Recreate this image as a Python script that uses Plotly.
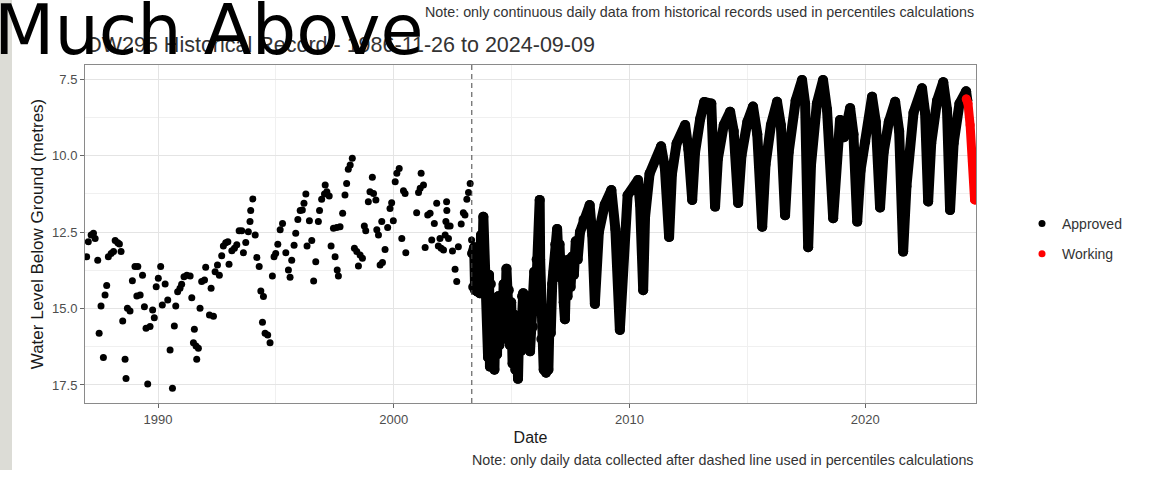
import plotly.graph_objects as go

# ---------------- data (decimal years, metres below ground) ----------------
hist_year = [1986.97,1987.04,1987.16,1987.26,1987.33,1987.44,1987.50,1987.58,1987.68,1987.75,
             1987.82,1987.89,1988.01,1988.11,1988.18,1988.29,1988.36,1988.43,1988.50,1988.60,
             1988.64,1988.70,1988.81,1988.91,1989.02,1989.14,1989.10,1989.24,1989.34,1989.42,
             1989.49,1989.66,1989.56,1989.77,1989.84,1989.92,1990.01,1990.11,1990.18,1990.30,
             1990.41,1990.51,1990.61,1990.69,1990.75,1990.83,1990.93,1991.00,1991.10,1991.22,
             1991.36,1991.43,1991.54,1991.50,1991.61,1991.71,1991.64,1991.78,1991.85,1991.97,
             1992.02,1992.18,1992.35,1992.25,1992.42,1992.52,1992.60,1992.70,1992.77,1992.87,
             1992.96,1993.01,1993.13,1993.24,1993.34,1993.44,1993.55,1993.62,1993.72,1993.83,
             1993.90,1993.93,1994.02,1994.12,1994.19,1994.29,1994.36,1994.47,1994.43,1994.54,
             1994.65,1994.75,1994.85,1994.92,1994.99,1995.08,1995.18,1995.28,
             1995.42,1995.53,1995.60,1995.67,1995.77,1995.84,1995.93,1996.03,1996.12,1996.19,
             1996.27,1996.32,1996.42,1996.52,1996.60,1996.69,1996.80,1996.85,1996.94,1997.06,
             1997.16,1997.26,1997.09,1997.34,1997.44,1997.58,1997.72,1997.51,1997.60,1997.65,
             1997.83,1997.93,1998.00,1998.07,1998.15,1998.24,1998.33,1998.43,1998.57,1998.67,
             1998.50,1998.75,1998.81,1998.92,1998.99,1999.14,1999.24,1999.09,1999.28,1999.35,
             1999.42,1999.52,1999.49,1999.63,1999.74,1999.84,1999.91,1999.98,2000.06,2000.13,
             2000.23,2000.34,2000.41,2000.48,2000.51,2000.97,2001.05,2001.12,2001.16,2001.26,
             2001.33,2001.44,2001.54,2001.61,2001.72,2001.82,2001.89,2002.01,2002.11,2001.96,
             2002.18,2002.32,2002.21,2002.29,2002.39,2002.25,2002.24,2002.49,2002.60,2002.67,
             2002.74,2002.86,2002.95,2003.02,2003.10,2003.17,2003.24,2003.30]
hist_level = [13.31,12.82,12.60,12.54,12.71,13.42,15.81,14.92,16.60,14.56,
              14.25,13.31,13.20,13.14,12.78,12.85,12.89,13.14,15.41,16.66,
              17.29,14.99,15.08,14.09,13.63,13.63,14.59,14.56,13.91,14.94,
              15.65,15.59,17.47,15.05,15.30,14.29,14.01,13.63,14.89,14.20,
              14.72,16.36,17.61,15.57,14.92,14.45,14.34,14.21,13.96,13.91,
              13.94,14.65,15.68,16.12,16.23,16.30,16.66,14.99,14.12,14.07,
              13.65,15.21,15.25,14.34,13.80,13.58,13.91,13.28,12.96,12.85,
              12.82,13.55,13.11,13.03,12.92,12.46,12.46,13.18,12.84,12.49,
              12.16,11.80,11.42,12.60,13.33,13.63,14.43,14.61,15.45,15.81,
              15.87,16.12,13.94,13.31,13.20,12.90,12.43,12.22,
              13.18,13.74,13.98,13.42,12.93,12.54,12.09,11.80,11.78,11.56,
              11.26,12.96,12.13,12.78,14.10,13.47,12.16,11.80,11.43,11.26,
              11.18,11.32,10.96,12.96,12.38,12.35,12.33,13.31,13.74,13.94,
              11.89,11.29,10.91,10.45,10.31,10.09,13.03,13.14,13.25,13.36,
              13.61,12.30,12.46,11.51,11.18,11.24,11.45,10.71,12.43,12.60,
              13.58,13.50,12.16,13.07,12.35,11.73,11.54,12.13,10.86,10.58,
              10.42,12.71,11.15,11.24,13.18,11.87,11.21,11.07,10.58,10.96,
              13.01,11.94,11.89,12.76,12.22,11.56,12.96,13.03,13.09,12.71,
              12.60,12.71,12.16,12.30,12.30,11.80,11.51,13.12,13.72,14.12,
              12.98,12.24,11.87,11.94,11.43,11.21,10.91,12.76]

daily_year = [2003.33,2003.37,2003.41,2003.45,2003.50,2003.55,2003.60,2003.65,2003.70,2003.75,
              2003.80,2003.85,2003.90,2003.95,2004.00,2004.04,2004.08,2004.12,2004.17,2004.22,
              2004.27,2004.32,2004.38,2004.43,2004.48,2004.54,2004.60,2004.66,2004.72,2004.78,
              2004.83,2004.88,2004.93,2004.98,2005.04,2005.10,2005.16,2005.22,2005.27,2005.32,
              2005.38,2005.44,2005.49,2005.54,2005.60,2005.66,2005.72,2005.78,2005.84,2005.90,
              2005.96,2006.02,2006.06,2006.12,2006.17,2006.19,2006.21,2006.26,2006.31,2006.36,
              2006.41,2006.46,2006.51,2006.56,2006.61,2006.66,2006.72,2006.78,2006.85,2006.93,
              2006.98,2007.03,2007.09,2007.15,2007.21,2007.26,2007.31,2007.37,2007.43,2007.50,
              2007.57,2007.64,2007.72,2007.80,2007.90,2008.05,
              2008.31,2008.42,2008.53,2008.70,2008.95,2009.23,2009.40,2009.59,2009.75,2009.92,
              2010.36,2010.45,2010.58,2010.66,2010.85,2011.34,2011.50,2011.68,2011.80,2012.00,
              2012.36,2012.50,2012.66,2012.78,2013.00,2013.17,2013.47,2013.63,2013.75,2014.00,
              2014.27,2014.42,2014.61,2014.75,2015.00,2015.24,2015.42,2015.63,2015.77,2016.00,
              2016.26,2016.42,2016.60,2016.75,2017.05,2017.32,2017.45,2017.58,2017.70,2017.95,
              2018.21,2018.38,2018.64,2018.78,2018.93,2019.10,2019.36,2019.50,2019.66,2019.80,
              2020.00,2020.12,2020.29,2020.45,2020.63,2020.78,2021.00,2021.27,2021.44,2021.61,
              2021.75,2022.05,2022.41,2022.54,2022.67,2022.80,2023.05,2023.31,2023.47,2023.60,
              2023.75,2024.00,2024.28,2024.33]
daily_level = [13.2,14.3,13.0,14.4,13.1,14.45,13.3,14.5,12.6,14.0,
               12.0,13.8,14.5,14.0,16.6,13.9,16.9,14.2,16.4,14.8,
               17.0,14.7,16.5,14.6,16.2,14.9,16.0,14.2,15.6,13.7,
               15.4,14.4,16.2,14.8,16.8,15.2,17.0,15.6,17.3,15.5,
               16.4,14.6,14.5,16.2,14.7,16.3,14.6,16.4,14.8,15.6,
               13.8,14.8,13.4,14.2,13.2,11.45,13.4,16.0,15.4,17.0,
               15.6,17.1,15.5,17.0,15.2,15.8,14.2,13.8,12.9,12.4,
               13.2,12.9,14.0,13.4,14.8,15.35,14.0,14.6,13.4,14.3,
               13.3,13.9,12.8,13.4,12.5,12.1,
               11.62,12.6,14.85,12.5,11.6,11.13,12.4,15.7,12.6,11.3,
               10.8,11.6,14.4,12.0,10.6,9.7,10.4,12.66,10.6,9.6,
               9.0,9.8,11.45,9.9,8.8,8.25,8.3,11.67,10.1,9.0,
               8.57,9.2,11.55,10.0,8.9,8.4,9.3,12.33,10.3,9.0,
               8.24,9.0,11.95,9.9,8.2,7.53,8.3,13.0,10.3,8.3,
               7.53,8.5,12.05,9.8,8.84,9.4,8.45,9.3,12.16,10.5,
               9.55,9.0,8.08,8.9,11.7,9.9,8.9,8.24,9.2,13.14,
               11.0,8.6,7.8,8.6,11.5,9.6,8.2,7.6,8.5,11.78,
               9.6,8.3,7.9,8.2]

work_year = [2024.29,2024.36,2024.45,2024.55,2024.64]
work_level = [8.15,8.3,9.0,10.2,11.45]

x_ticks = [1990, 2000, 2010, 2020]
y_ticks = [7.5, 10.0, 12.5, 15.0, 17.5]
dashed_year = 2003.31

title_text = "OW295 Historical Record - 1986-11-26 to 2024-09-09"
overlay_text = "Much Above"
note_top = "Note: only continuous daily data from historical records used in percentiles calculations"
note_bottom = "Note: only daily data collected after dashed line used in percentiles calculations"

# ---------------- figure ----------------
W, H = 1168, 477
L, R, T, B = 85, 192, 65, 74
pw, ph = W - L - R, H - T - B

def px_x(px):
    return (px - L) / pw

def px_y(py):
    return (H - B - py) / ph

FONT = "Liberation Sans, Arial, sans-serif"

fig = go.Figure()
fig.add_trace(go.Scatter(x=daily_year, y=daily_level, mode="lines+markers",
                         line=dict(color="#000000", width=10),
                         marker=dict(color="#000000", size=10),
                         legendgroup="a", showlegend=False, hoverinfo="skip"))
fig.add_trace(go.Scatter(x=hist_year, y=hist_level, mode="markers", name="Approved",
                         marker=dict(color="#000000", size=7),
                         legendgroup="a"))
fig.add_trace(go.Scatter(x=work_year, y=work_level, mode="lines+markers",
                         line=dict(color="#ff0000", width=9),
                         marker=dict(color="#ff0000", size=9),
                         legendgroup="w", showlegend=False, hoverinfo="skip"))
fig.add_trace(go.Scatter(x=work_year, y=work_level, mode="markers", name="Working",
                         marker=dict(color="#ff0000", size=7),
                         legendgroup="w"))

axis_common = dict(showline=True, mirror=True, linecolor="#8a8a8a", linewidth=1,
                   ticks="outside", ticklen=4, tickcolor="#666666", tickwidth=1,
                   showgrid=True, gridcolor="#e4e4e4", gridwidth=1.2,
                   zeroline=False, automargin=False,
                   tickfont=dict(family=FONT, size=13, color="#4d4d4d"))

fig.update_xaxes(range=[1986.90, 2024.70], tickvals=x_ticks, ticktext=[str(v) for v in x_ticks],
                 minor=dict(tickvals=[1995, 2005, 2015], showgrid=True, gridcolor="#f0f0f0",
                            gridwidth=1, ticks=""),
                 title=dict(text="Date", font=dict(family=FONT, size=16, color="#1a1a1a"), standoff=6),
                 **axis_common)
fig.update_yaxes(range=[18.09, 7.04], tickvals=y_ticks, ticktext=[f"{v:.1f}" for v in y_ticks],
                 minor=dict(tickvals=[8.75, 11.25, 13.75, 16.25], showgrid=True, gridcolor="#f0f0f0",
                            gridwidth=1, ticks=""),
                 title=dict(text="Water Level Below Ground (metres)",
                            font=dict(family=FONT, size=17, color="#1a1a1a"), standoff=4),
                 **axis_common)

fig.add_shape(type="line", xref="x", yref="paper", x0=dashed_year, x1=dashed_year, y0=0, y1=1,
              line=dict(color="#444444", width=1, dash="5px,4px"), layer="above")

# left grey strip
fig.add_shape(type="rect", xref="paper", yref="paper", x0=px_x(0), x1=px_x(12),
              y0=px_y(470), y1=px_y(0), fillcolor="#dcdcd6", line=dict(width=0), layer="below")

fig.add_annotation(text=note_top, xref="paper", yref="paper", x=1, y=px_y(12),
                   xanchor="right", yanchor="middle", showarrow=False,
                   font=dict(family=FONT, size=14.3, color="#333333"))
fig.add_annotation(text=title_text, xref="paper", yref="paper", x=px_x(83), y=px_y(45),
                   xanchor="left", yanchor="middle", showarrow=False,
                   font=dict(family=FONT, size=21.5, color="#333333"))
fig.add_annotation(text=note_bottom, xref="paper", yref="paper", x=1, y=px_y(460),
                   xanchor="right", yanchor="middle", showarrow=False,
                   font=dict(family=FONT, size=14.3, color="#333333"))
fig.add_annotation(text=overlay_text, xref="paper", yref="paper", x=px_x(-8), y=px_y(30),
                   xanchor="left", yanchor="middle", showarrow=False,
                   font=dict(family="DejaVu Sans", size=70, color="#000000"))

fig.update_layout(
    width=W, height=H,
    margin=dict(l=L, r=R, t=T, b=B, autoexpand=False),
    paper_bgcolor="white", plot_bgcolor="white",
    template="none",
    showlegend=True,
    legend=dict(x=px_x(1022), y=px_y(239), xanchor="left", yanchor="middle",
                font=dict(family=FONT, size=14, color="#333333"),
                bgcolor="rgba(0,0,0,0)", borderwidth=0, tracegroupgap=9,
                itemclick=False, itemdoubleclick=False),
)

post = ("document.querySelectorAll('.js-line').forEach(function(p){"
        "p.style.strokeLinejoin='round';p.style.strokeLinecap='round';});")
fig.write_html("out.html", post_script=post)
